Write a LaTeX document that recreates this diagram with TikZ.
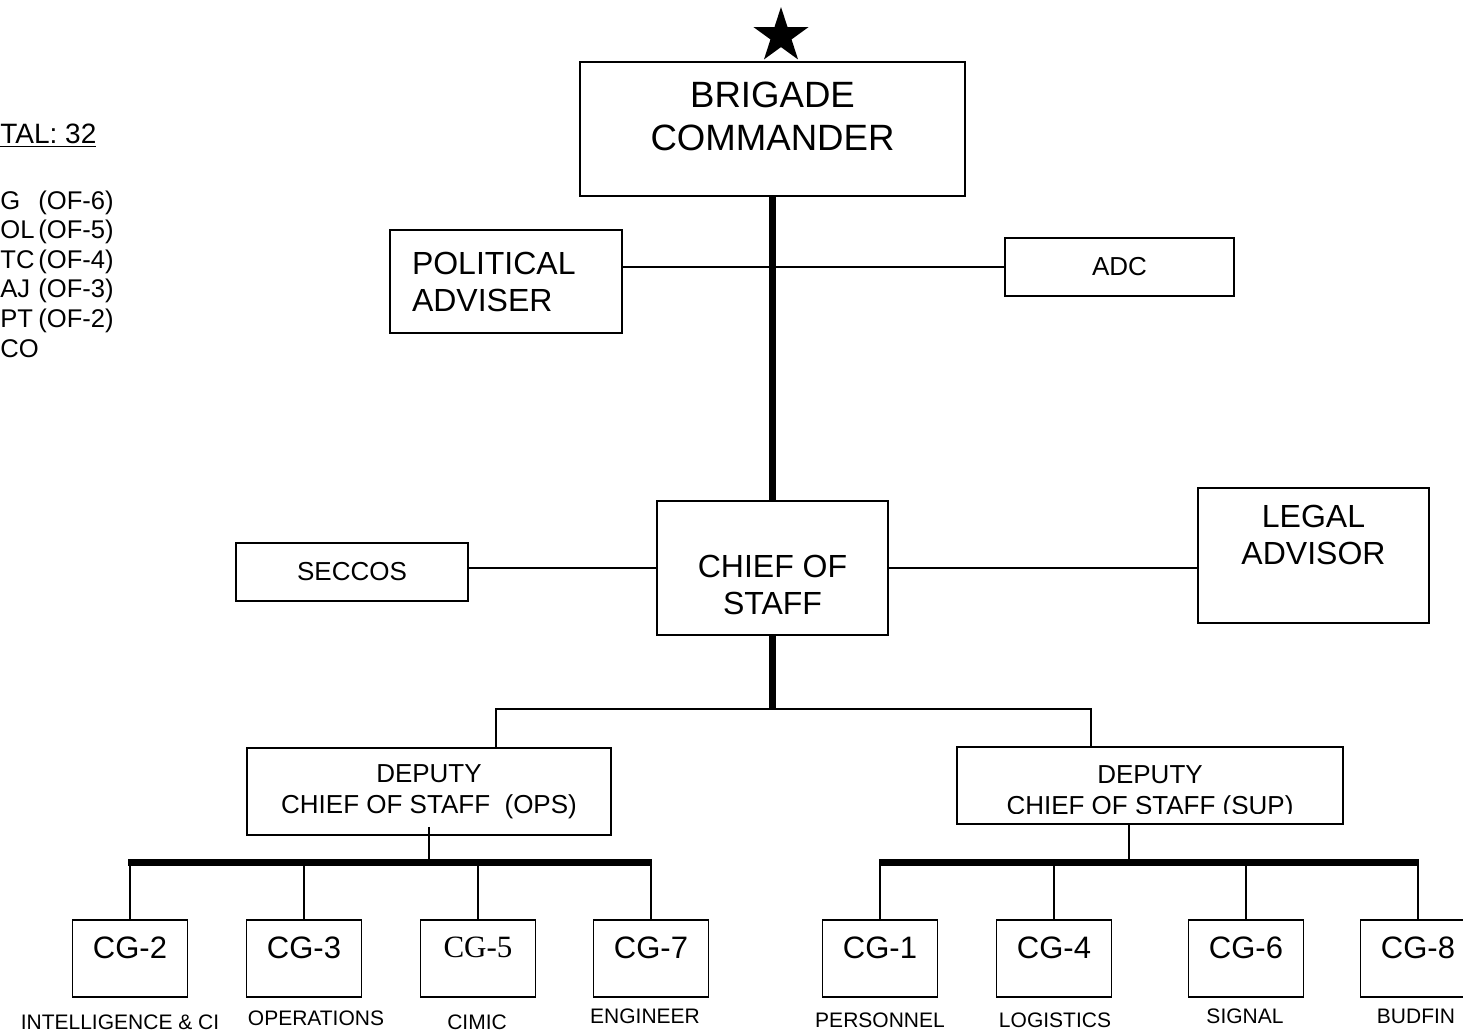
\documentclass[tikz,border=0pt]{standalone}
\usepackage{fontspec}
\setmainfont{Liberation Sans}
\newfontfamily\cgserif{Liberation Serif}
\usetikzlibrary{positioning,shapes.geometric}
\tikzset{
  org/.style={draw,line width=0.9pt,inner sep=0pt,align=center},
  bigtxt/.style={font=\fontsize{16}{18.5}\selectfont,align=center,inner sep=0pt},
  midtxt/.style={font=\fontsize{13}{15.5}\selectfont},
  cgbox/.style={org,minimum width=57.5pt,minimum height=38.5pt,text depth=11pt,
                font=\fontsize{15.5}{18}\selectfont},
  cglbl/.style={font=\fontsize{10.5}{12}\selectfont,inner sep=0pt},
  conn/.style={line width=1pt},
  trunk/.style={line width=3.8pt},
  bar/.style={line width=3.5pt},
  rank/.style={font=\fontsize{12.8}{14.8}\selectfont,anchor=base west,inner sep=0pt},
}
\newcommand{\rk}[2]{\makebox[19pt][l]{#1}#2}

\begin{document}
\begin{tikzpicture}[x=0.5pt,y=-0.5pt]
\useasboundingbox (0,0) rectangle (1463,1035);

% ------------------------------------------------ strength box (cut at the left)
\node[anchor=base west,inner sep=0pt,font=\fontsize{14}{16}\selectfont] (total)
  at (0,143) {\underline{TAL: 32}};
\foreach \r/\o [count=\n from 0] in {G/(OF-6), OL/(OF-5), TC/(OF-4),
                                      AJ/(OF-3), PT/(OF-2), CO/{}}
  {\node[rank] (rank\n) at (0,{209+29.6*\n}) {\rk{\r}{\o}};}

% ------------------------------------------------ command
\node[org,minimum width=192.5pt,minimum height=67pt] (brig) at (772.5,129) {};
\node[bigtxt,font=\fontsize{18.3}{21.5}\selectfont] (brigtxt) at (772.5,116)
  {BRIGADE\\COMMANDER};
\node[star,star points=5,star point ratio=2.618,fill=black,inner sep=0pt,
      minimum size=29pt] (star) at (781,36) {};

\node[org,bigtxt,draw,line width=0.9pt,minimum height=51.5pt,text width=94pt,
      inner xsep=11pt,align=left] (pol) at (506,281.5) {POLITICAL\\ADVISER};
\node[org,midtxt,minimum width=114.5pt,minimum height=29pt] (adc)
  at (1119.5,267) {ADC};
\draw[conn] (pol.east |- adc.west) -- (adc.west);

% ------------------------------------------------ chief of staff
\node[org,minimum width=115.5pt,minimum height=67pt] (cos) at (772.5,568) {};
\node[bigtxt] (costxt) at (772.5,585) {CHIEF OF\\STAFF};
\draw[trunk] (brig.south) -- (cos.north);

\node[org,midtxt,minimum width=116pt,minimum height=29pt] (sec) at (352,572) {SECCOS};
\node[org,minimum width=115.5pt,minimum height=67.5pt] (legal) at (1313.5,555.5) {};
\node[bigtxt] (legaltxt) at (1313.5,535) {LEGAL\\ADVISOR};
\draw[conn] (sec.east |- cos.west) -- (cos.west);
\draw[conn] (cos.east) -- (cos.east -| legal.west);

% ------------------------------------------------ deputies
\node[org,midtxt,align=center,minimum width=182pt,minimum height=43.5pt] (ops)
  at (429,791.5) {DEPUTY\\CHIEF OF STAFF\ \ (OPS)};
\node[org,minimum width=193pt,minimum height=38.5pt] (sup) at (1150,785.5) {};
\begin{scope}
  \clip (sup.north west) rectangle ([yshift=5.5pt]sup.south east);
  \node[midtxt,align=center,inner sep=0pt] (suptxt) at (1150,793)
    {DEPUTY\\CHIEF OF STAFF (SUP)};
\end{scope}

\coordinate (split) at (772.5,709);
\coordinate (opsin) at (496,748);
\coordinate (supin) at (1091,747);
\coordinate (supout) at (1129,824);
\draw[trunk] (cos.south) -- (split);
\draw[conn] (opsin) |- (split) -| (supin);

% ------------------------------------------------ staff branches
\coordinate (barl) at (128,862);
\coordinate (barr) at (1419,862);
\draw[bar] (barl) -- (652,862);
\draw[bar] (879,862) -- (barr);
\draw[conn] ([yshift=4.5pt]ops.south) -- (ops.south |- barl);
\draw[conn] (supout) -- (supout |- barr);

\foreach \nm/\x/\t/\lx/\ly/\lt in {%
  cg2/130/CG-2/120/1022/{INTELLIGENCE \& CI},
  cg3/304/CG-3/316/1018/OPERATIONS,
  cg5/478/{\cgserif CG-5}/477/1022/CIMIC,
  cg7/651/CG-7/645/1016/ENGINEER,
  cg1/880/CG-1/880/1020/PERSONNEL,
  cg4/1054/CG-4/1055/1020/LOGISTICS,
  cg6/1246/CG-6/1245/1016/SIGNAL,
  cg8/1418/CG-8/1416/1016/BUDFIN}
  {\node[cgbox] (\nm) at (\x,958.5) {\t};
   \node[cglbl] (\nm-l) at (\lx,\ly) {\lt};
   \draw[conn] (\nm.north) -- (\nm.north |- barl);}

\end{tikzpicture}
\end{document}
